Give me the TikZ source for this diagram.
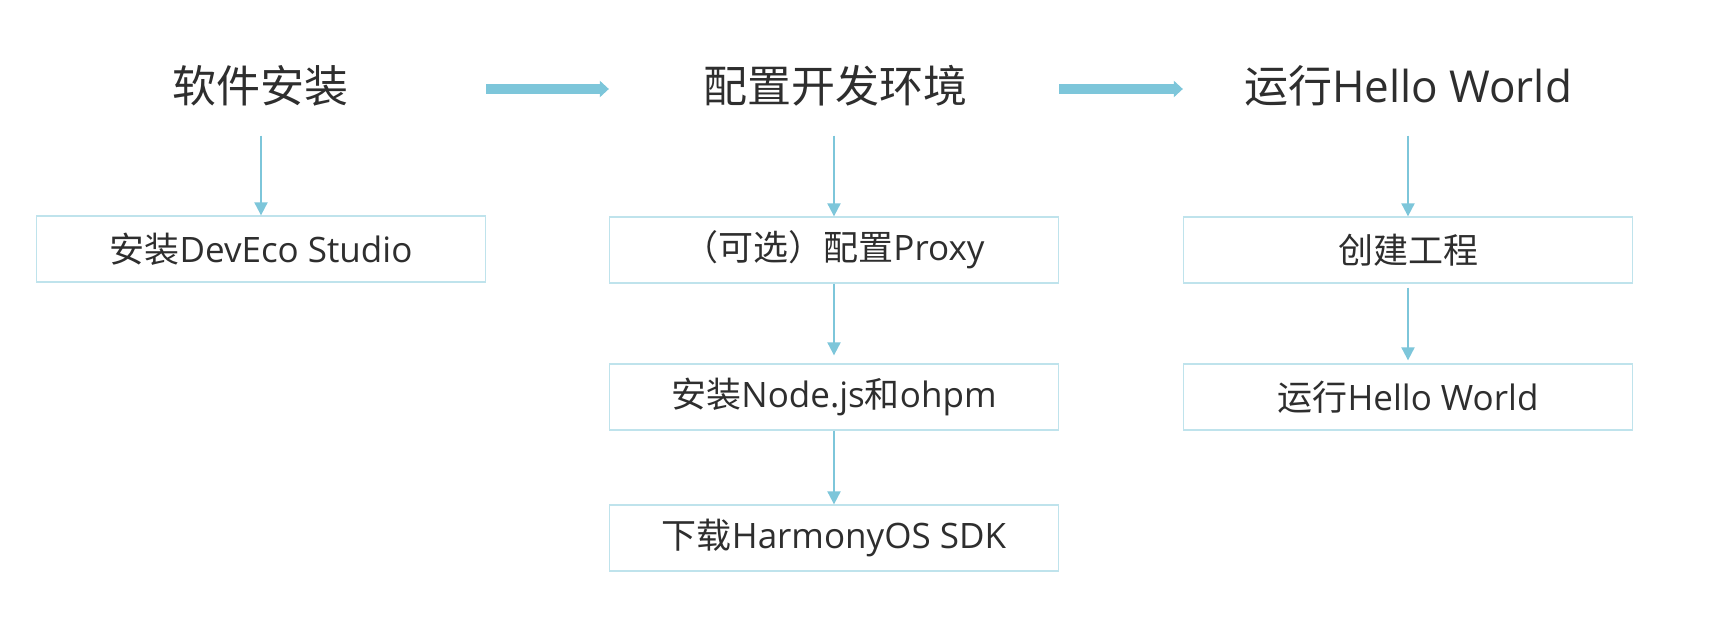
\documentclass[tikz,border=0pt]{standalone}
\usepackage{fontspec}
\setmainfont{Open Sans}
\newfontfamily\cjk{Noto Sans CJK SC}
\usetikzlibrary{arrows.meta}
\definecolor{arrowblue}{HTML}{7DC6DA}
\definecolor{boxblue}{HTML}{BFE3EC}
\definecolor{txt}{HTML}{2E2E2E}
\tikzset{
  title/.style={text=txt, font=\fontsize{44}{50}\selectfont, inner sep=0pt},
  stepbox/.style={draw=boxblue, line width=1.3pt, minimum width=449pt, minimum height=66pt,
    text=txt, font=\fontsize{35}{40}\selectfont, inner sep=0pt},
  boxtext/.style={yshift=2pt},
  thin arrow/.style={draw=arrowblue, line width=2pt, -{Triangle[length=13pt,width=13pt]}},
  big arrow/.style={draw=arrowblue, line width=10pt, -{Triangle[length=9pt,width=16pt]}}
}
\begin{document}
\begin{tikzpicture}[x=1pt,y=-1pt]
\useasboundingbox[fill=white] (0,0) rectangle (1730,618);
% titles
\node[title] (t1) at (260,86) {\cjk 软件安装};
\node[title] (t2) at (835,86) {\cjk 配置开发环境};
\node[title] (t3) at (1408,86) {{\cjk 运行}Hello World};
% boxes
\node[stepbox] (b1)  at (261,249) {\raisebox{2pt}{{\cjk 安装}DevEco Studio}};
\node[stepbox] (b2a) at (834,250) {\raisebox{2pt}{{\cjk （可选）配置}Proxy}};
\node[stepbox] (b2b) at (834,397) {\raisebox{2pt}{{\cjk 安装}Node.js{\cjk 和}ohpm}};
\node[stepbox] (b2c) at (834,538) {\raisebox{2pt}{{\cjk 下载}HarmonyOS SDK}};
\node[stepbox] (b3a) at (1408,250) {\raisebox{2pt}{\cjk 创建工程}};
\node[stepbox] (b3b) at (1408,397) {\raisebox{2pt}{{\cjk 运行}Hello World}};
% big arrows
\draw[big arrow] ([yshift=-3pt]b1.east |- t1.center) -- ([yshift=-3pt]b2a.west |- t2.center);
\draw[big arrow] ([yshift=-3pt]b2a.east |- t2.center) -- ([yshift=-3pt]b3a.west |- t3.center);
% thin arrows
\draw[thin arrow, shorten <=29pt] (t1.south -| b1.north) -- (b1.north);
\draw[thin arrow, shorten <=29pt] (t2.south -| b2a.north) -- (b2a.north);
\draw[thin arrow, shorten <=29pt] (t3.south -| b3a.north) -- (b3a.north);
\draw[thin arrow, shorten >=8pt] (b2a.south) -- (b2b.north);
\draw[thin arrow] (b2b.south) -- (b2c.north);
\draw[thin arrow, shorten <=4pt, shorten >=3pt] (b3a.south) -- (b3b.north);
\end{tikzpicture}
\end{document}
